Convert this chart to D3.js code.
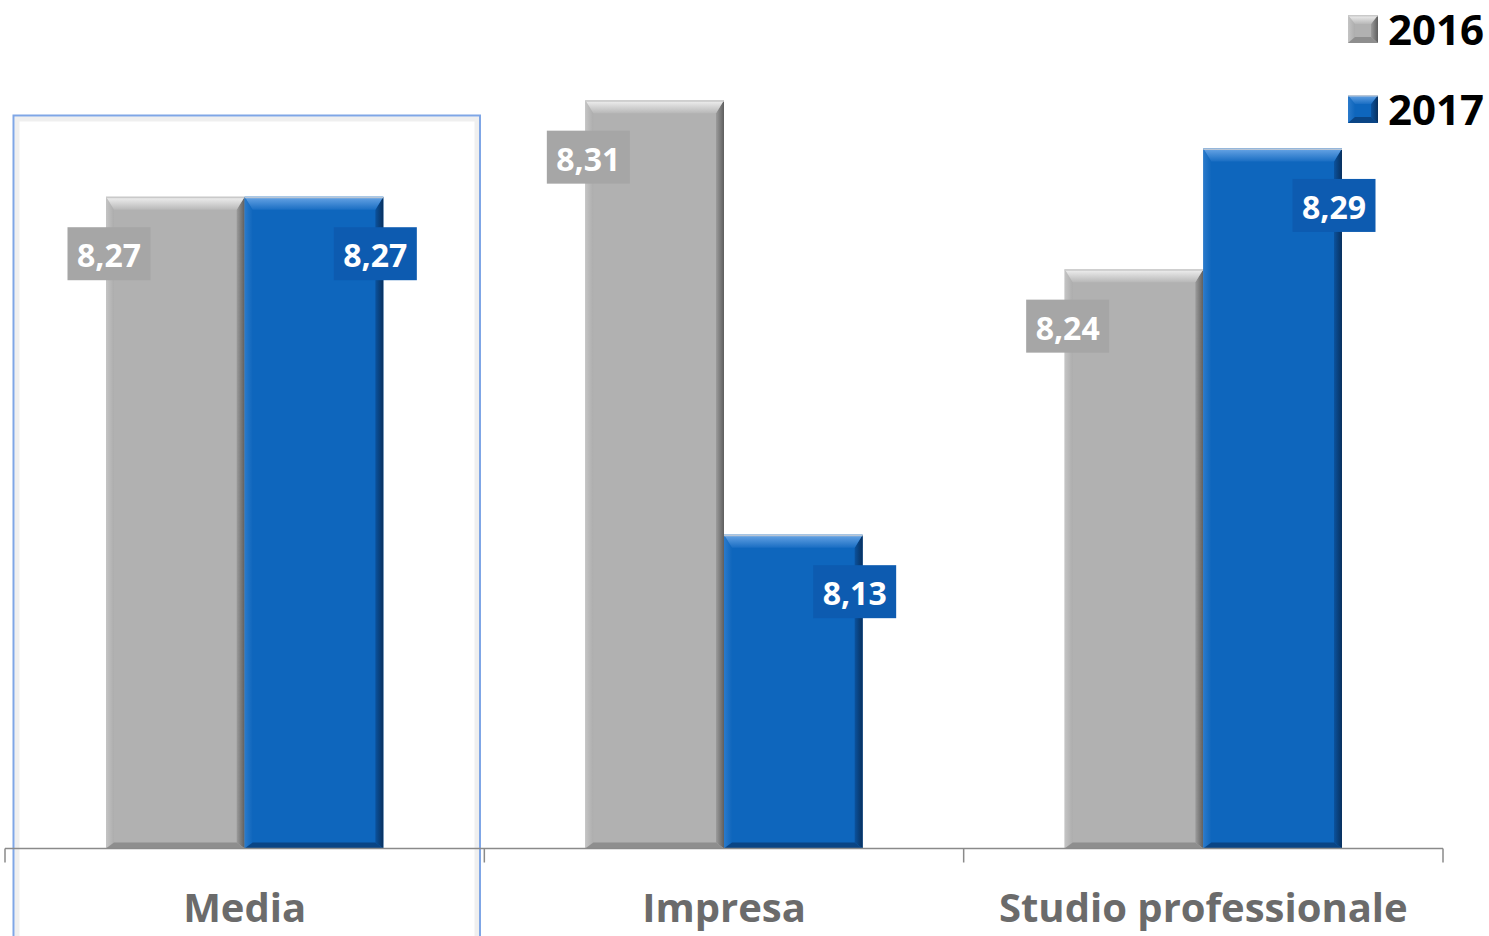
<!DOCTYPE html>
<html>
<head>
<meta charset="utf-8">
<script src="https://cdn.jsdelivr.net/npm/d3@7"></script>
<style>
  html, body { margin: 0; padding: 0; background: #ffffff; }
  svg { display: block; }
  text { font-family: "Open Sans", "DejaVu Sans", sans-serif; font-weight: 700; }
</style>
</head>
<body>
<svg id="chart" width="1489" height="936"></svg>
<script>
// Chart data
const categories = ["Media", "Impresa", "Studio professionale"];
const seriesNames = ["2016", "2017"];
const values2016 = [8.27, 8.31, 8.24];
const values2017 = [8.27, 8.13, 8.29];
const yDomain = [8.0, 8.35];

const W = 1489, H = 936;
const svg = d3.select("#chart");
const defs = svg.append("defs");

// Bar palettes: face colour, bevel gradient stops, label box colour
const palettes = {
  "2016": { key: "s2016", face: "#b1b1b1", topA: "#f2f2f2", topB: "#b8b8b8", leftA: "#c4c4c4", leftB: "#adadad",
            rightA: "#5e5e5e", rightB: "#9c9c9c", bottom: "#8e8e8e", edge: "#c9c9c9", label: "#a6a6a6" },
  "2017": { key: "s2017", face: "#0e66bd", topA: "#6aa6e6", topB: "#1a6ec3", leftA: "#2a7acb", leftB: "#0f66bc",
            rightA: "#08305e", rightB: "#0b529d", bottom: "#0a4585", edge: "#b9c6d6", label: "#0d5bb0" }
};

// Bevel gradients per series
Object.values(palettes).forEach(p => {
  const grad = (id, x1, y1, x2, y2, a, b) => {
    const lg = defs.append("linearGradient").attr("id", id)
      .attr("x1", x1).attr("y1", y1).attr("x2", x2).attr("y2", y2);
    lg.append("stop").attr("offset", "0%").attr("stop-color", a);
    lg.append("stop").attr("offset", "100%").attr("stop-color", b);
  };
  grad(p.key + "-top", 0, 0, 0, 1, p.topA, p.topB);
  grad(p.key + "-left", 0, 0, 1, 0, p.leftA, p.leftB);
  grad(p.key + "-right", 1, 0, 0, 0, p.rightA, p.rightB);
});

const rows = categories.map((c, i) => ({
  category: c,
  values: [
    { series: "2016", value: values2016[i] },
    { series: "2017", value: values2017[i] }
  ]
}));

// Scales
const x0 = d3.scaleBand().domain(categories).range([5, 1443]).paddingInner(0).paddingOuter(0);
const groupGap = 101;
const x1 = d3.scaleBand().domain(seriesNames).range([groupGap, x0.bandwidth() - groupGap]).padding(0);
const y = d3.scaleLinear().domain(yDomain).range([848.5, 3.6]);

// Selection frame around the first category
svg.append("rect")
  .attr("x", 17).attr("y", 119)
  .attr("width", 460).attr("height", H)
  .attr("fill", "none")
  .attr("stroke", "#efefef")
  .attr("stroke-width", 5);
svg.append("rect")
  .attr("x", 13.5).attr("y", 115.5)
  .attr("width", 466.5).attr("height", H)
  .attr("fill", "none")
  .attr("stroke", "#7fa6e6")
  .attr("stroke-width", 2);

// Bevelled bar drawing
function bevelBar(g, x, yTop, w, h, pal, dTop, dSide, dBot) {
  dTop = Math.min(dTop, h / 2); dBot = Math.min(dBot, h / 2); dSide = Math.min(dSide, w / 2);
  const x2 = x + w, y2 = yTop + h;
  g.append("rect").attr("x", x).attr("y", yTop).attr("width", w).attr("height", h).attr("fill", pal.face);
  const poly = (pts, fill) => g.append("polygon")
    .attr("points", pts.map(p => p.join(",")).join(" "))
    .attr("fill", fill);
  poly([[x, yTop], [x + dSide, yTop + dTop], [x + dSide, y2 - dBot], [x, y2]], `url(#${pal.key}-left)`);
  poly([[x2, yTop], [x2, y2], [x2 - dSide, y2 - dBot], [x2 - dSide, yTop + dTop]], `url(#${pal.key}-right)`);
  poly([[x, y2], [x + dSide, y2 - dBot], [x2 - dSide, y2 - dBot], [x2, y2]], pal.bottom);
  poly([[x, yTop], [x2, yTop], [x2 - dSide, yTop + dTop], [x + dSide, yTop + dTop]], `url(#${pal.key}-top)`);
  g.append("line").attr("x1", x).attr("x2", x2).attr("y1", yTop + 0.75).attr("y2", yTop + 0.75)
    .attr("stroke", pal.edge).attr("stroke-width", 1.5);
}

const groups = svg.append("g").selectAll("g")
  .data(rows).join("g")
  .attr("transform", d => `translate(${x0(d.category)},0)`);

groups.each(function(row) {
  const g = d3.select(this);
  row.values.forEach(v => {
    const bx = x1(v.series), bw = x1.bandwidth();
    const top = y(v.value), h = y(yDomain[0]) - top;
    bevelBar(g.append("g"), bx, top, bw, h, palettes[v.series], 13, 8, 6);
  });
});

// Category axis
const axisY = y(yDomain[0]);
const axisG = svg.append("g");
axisG.append("line")
  .attr("x1", 5).attr("x2", 1443).attr("y1", axisY).attr("y2", axisY)
  .attr("stroke", "#8a8a8a").attr("stroke-width", 1.5);
const tickXs = categories.map(c => x0(c)).concat([x0(categories[categories.length - 1]) + x0.bandwidth()]);
axisG.selectAll("line.tick").data(tickXs).join("line")
  .attr("class", "tick")
  .attr("x1", d => d).attr("x2", d => d)
  .attr("y1", axisY).attr("y2", axisY + 14)
  .attr("stroke", "#8a8a8a").attr("stroke-width", 1.5);
axisG.selectAll("text").data(categories).join("text")
  .attr("x", d => x0(d) + x0.bandwidth() / 2)
  .attr("y", 922)
  .attr("text-anchor", "middle")
  .attr("font-size", 40)
  .attr("fill", "#6b6b6b")
  .text(d => d);

// Value labels
const fmt = v => v.toFixed(2).replace(".", ",");
const labelLayer = svg.append("g");
rows.forEach(row => {
  row.values.forEach(v => {
    const bx = x0(row.category) + x1(v.series);
    const bw = x1.bandwidth();
    const cx = v.series === "2016" ? bx + 3 : bx + bw - 8;
    const cy = y(v.value) + 57;
    const g = labelLayer.append("g");
    g.append("rect")
      .attr("x", cx - 41.5).attr("y", cy - 26.5)
      .attr("width", 83).attr("height", 53)
      .attr("fill", palettes[v.series].label);
    g.append("text")
      .attr("x", cx).attr("y", cy + 1)
      .attr("text-anchor", "middle")
      .attr("dominant-baseline", "central")
      .attr("font-size", 32)
      .attr("fill", "#ffffff")
      .text(fmt(v.value));
  });
});

// Legend
const legend = svg.append("g");
seriesNames.forEach((s, i) => {
  const cy = 29 + i * 80;
  const g = legend.append("g");
  bevelBar(g, 1348, cy - 14, 30, 28, palettes[s], 9, 7, 6);
  g.append("text")
    .attr("x", 1388).attr("y", cy - 1)
    .attr("dominant-baseline", "central")
    .attr("font-size", 42)
    .attr("fill", "#000000")
    .text(s);
});
</script>
</body>
</html>
